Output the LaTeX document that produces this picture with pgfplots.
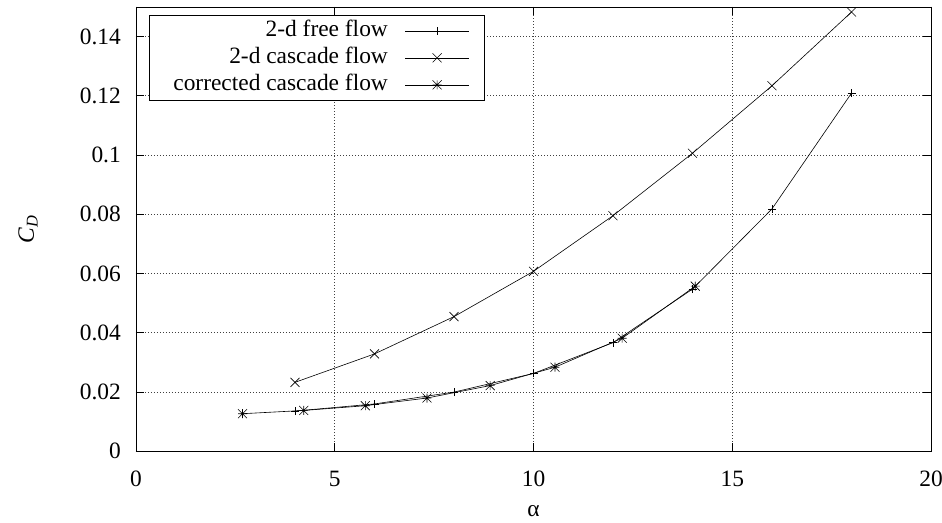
\documentclass[border=0pt]{standalone}
\usepackage{fontspec}
\setmainfont{Liberation Serif}
\usepackage{pgfplots}
\pgfplotsset{compat=1.18}

% gnuplot-like point types: plus, cross, star (plus + cross)
\pgfdeclareplotmark{gpplus}{%
  \pgfpathmoveto{\pgfqpoint{-\pgfplotmarksize}{0pt}}%
  \pgfpathlineto{\pgfqpoint{\pgfplotmarksize}{0pt}}%
  \pgfpathmoveto{\pgfqpoint{0pt}{-\pgfplotmarksize}}%
  \pgfpathlineto{\pgfqpoint{0pt}{\pgfplotmarksize}}%
  \pgfusepathqstroke}
\pgfdeclareplotmark{gpcross}{%
  \pgfpathmoveto{\pgfqpoint{-\pgfplotmarksize}{-\pgfplotmarksize}}%
  \pgfpathlineto{\pgfqpoint{\pgfplotmarksize}{\pgfplotmarksize}}%
  \pgfpathmoveto{\pgfqpoint{-\pgfplotmarksize}{\pgfplotmarksize}}%
  \pgfpathlineto{\pgfqpoint{\pgfplotmarksize}{-\pgfplotmarksize}}%
  \pgfusepathqstroke}
\pgfdeclareplotmark{gpstar}{%
  \pgfpathmoveto{\pgfqpoint{-\pgfplotmarksize}{0pt}}%
  \pgfpathlineto{\pgfqpoint{\pgfplotmarksize}{0pt}}%
  \pgfpathmoveto{\pgfqpoint{0pt}{-\pgfplotmarksize}}%
  \pgfpathlineto{\pgfqpoint{0pt}{\pgfplotmarksize}}%
  \pgfpathmoveto{\pgfqpoint{-\pgfplotmarksize}{-\pgfplotmarksize}}%
  \pgfpathlineto{\pgfqpoint{\pgfplotmarksize}{\pgfplotmarksize}}%
  \pgfpathmoveto{\pgfqpoint{-\pgfplotmarksize}{\pgfplotmarksize}}%
  \pgfpathlineto{\pgfqpoint{\pgfplotmarksize}{-\pgfplotmarksize}}%
  \pgfusepathqstroke}

\newcommand{\chartfont}{\fontsize{23.5}{27}\selectfont}

\begin{document}
\begin{tikzpicture}
\begin{axis}[
  scale only axis,
  width=795bp, height=444bp,
  xmin=0, xmax=20, ymin=0, ymax=0.15,
  xtick={0,5,10,15,20},
  ytick={0,0.02,0.04,0.06,0.08,0.1,0.12,0.14},
  minor tick num=0,
  scaled y ticks=false,
  /pgf/number format/assume math mode=true,
  tick label style={font=\chartfont},
  label style={font=\chartfont},
  yticklabel style={/pgf/number format/fixed,
    /pgf/number format/precision=2, inner sep=0pt},
  xticklabel style={inner sep=0pt},
  xticklabel shift=20bp,
  yticklabel shift=15bp,
  tick align=inside,
  major tick length=8bp,
  tick style={black, line width=0.6pt},
  axis line style={black, line width=0.9pt},
  grid=major,
  major grid style={black!75, line width=0.6pt, dash pattern=on 1bp off 2bp},
  xlabel={α},
  ylabel={\textit{C}\textsubscript{\textit{D}}},
  xlabel style={at={(axis description cs:0.5,-0.135)}, anchor=center},
  ylabel style={at={(axis description cs:-0.1358,0.5)}, anchor=center},
  every axis plot/.append style={black, line width=0.6pt},
  legend plot pos=right,
  legend cell align=right,
  legend image code/.code={%
    \draw[mark repeat=2, mark phase=2, #1]
      plot coordinates {(0bp,0bp) (32bp,0bp) (64bp,0bp)};},
  legend style={at={(rel axis cs:0.0164,0.982)}, anchor=north west,
    draw=black, line width=0.7pt, fill=white,
    inner xsep=15bp, inner ysep=5bp, font=\chartfont,
    nodes={inner sep=0pt, text height=16bp, text depth=5bp},
    row sep=6bp, column sep=17bp},
]

% 2-d free flow
\addplot[mark=gpplus, mark size=4bp] coordinates {
  (4,0.0135) (6,0.0159) (8,0.0199) (10,0.0262)
  (12,0.0366) (14,0.0547) (16,0.0818) (18,0.1209)
};
\addlegendentry{2-d free flow}

% 2-d cascade flow
\addplot[mark=gpcross, mark size=4.5bp] coordinates {
  (4,0.0232) (6,0.0328) (8,0.0454) (10,0.0607)
  (12,0.0795) (14,0.1006) (16,0.1234) (18,0.1483)
};
\addlegendentry{2-d cascade flow}

% corrected cascade flow
\addplot[mark=gpstar, mark size=4.5bp] coordinates {
  (2.68,0.0126) (4.22,0.0137) (5.77,0.0153) (7.32,0.0179)
  (8.91,0.0221) (10.54,0.0283) (12.23,0.0381) (14.07,0.0557)
};
\addlegendentry{\hspace*{9bp}corrected cascade flow}

\end{axis}
\pgfresetboundingbox
\path ([shift={(-136bp,-72bp)}]current axis.south west)
  rectangle ([shift={(11bp,7bp)}]current axis.north east);
\end{tikzpicture}
\end{document}
